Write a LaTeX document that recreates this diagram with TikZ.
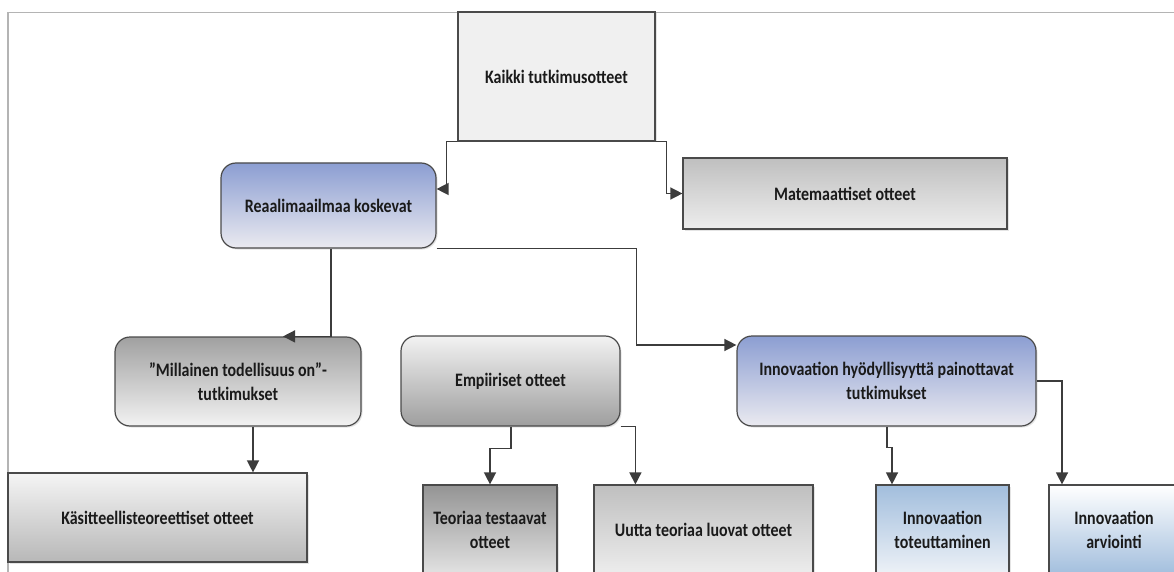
\documentclass[tikz,border=0pt]{standalone}
\usepackage{fontspec}
\setmainfont{Carlito}[FakeStretch=0.84]
\usetikzlibrary{arrows.meta,shadows}

\definecolor{edgecol}{HTML}{4A4A4A}
\definecolor{linecol}{HTML}{3C3C3C}
\definecolor{framecol}{HTML}{B4B4B4}
\definecolor{txtcol}{HTML}{1A1A1A}
\definecolor{paleFill}{HTML}{F0F0F0}
\definecolor{blueTop}{HTML}{8C9ED2}
\definecolor{blueBot}{HTML}{EAEAF0}
\definecolor{skyTop}{HTML}{A2BEDD}
\definecolor{skyBot}{HTML}{EEF2F7}

\tikzset{
  basebox/.style={draw=edgecol, line width=1.2pt, text=txtcol, align=center,
    inner sep=0pt, font=\fontsize{19}{23.5}\selectfont\bfseries,
    drop shadow={shadow xshift=1.5pt, shadow yshift=-1.5pt, opacity=0.15, fill=black!70}},
  roundbox/.style={basebox, rounded corners=15pt},
  conn/.style={draw=linecol, line width=1.4pt, -{Triangle[length=12pt,width=12pt]}}
}

\begin{document}
\begin{tikzpicture}[x=1pt, y=-1pt]
  % page area and white background
  \fill[white] (0,0) rectangle (1174,572);
  \useasboundingbox (0,0) rectangle (1174,572);
  \clip (0,0) rectangle (1174,572);

  % thin page frame (top and left edges)
  \draw[framecol, line width=1.2pt] (8,572) -- (8,12.5) -- (1174,12.5);

  % level 0
  \node[basebox, fill=paleFill, drop shadow={opacity=0}, minimum width=197pt, minimum height=129pt]
    (kaikki) at (556.5,76.5) {Kaikki tutkimusotteet};

  % level 1
  \node[roundbox, top color=blueTop, bottom color=blueBot, minimum width=215pt, minimum height=85pt]
    (reaali) at (328.5,205.5) {Reaalimaailmaa koskevat};
  \node[basebox, top color=black!25, bottom color=black!7, minimum width=324pt, minimum height=71pt]
    (matem) at (845,193.5) {Matemaattiset otteet};

  % level 2
  \node[roundbox, top color=black!37, bottom color=black!5, minimum width=246pt, minimum height=89pt]
    (mill) at (238,381.5) {”Millainen todellisuus on”-\\tutkimukset};
  \node[roundbox, top color=black!5, bottom color=black!38, minimum width=219pt, minimum height=90pt]
    (empi) at (510.5,381) {Empiiriset otteet};
  \node[roundbox, top color=blueTop, bottom color=blueBot, minimum width=299pt, minimum height=90pt]
    (innov) at (886.5,381) {Innovaation hyödyllisyyttä painottavat\\tutkimukset};

  % level 3
  \node[basebox, top color=black!4, bottom color=black!28, minimum width=299pt, minimum height=89pt]
    (kasit) at (157.5,517.5) {Käsitteellisteoreettiset otteet};
  \node[basebox, top color=black!42, bottom color=black!11, minimum width=134pt, minimum height=90pt]
    (teoria) at (490,530) {Teoriaa testaavat\\otteet};
  \node[basebox, top color=black!25, bottom color=black!7, minimum width=219pt, minimum height=90pt]
    (uutta) at (703.5,530) {Uutta teoriaa luovat otteet};
  \node[basebox, top color=skyTop, bottom color=skyBot, minimum width=133pt, minimum height=90pt]
    (toteut) at (942.5,530) {Innovaation\\toteuttaminen};
  \node[basebox, top color=white, bottom color=skyTop, minimum width=130pt, minimum height=90pt]
    (arvio) at (1114,530) {Innovaation\\arviointi};

  % connectors
  \draw[conn] (kaikki.south west) -- ++(-11,0) |- ([yshift=16.5pt]reaali.east);
  \draw[conn] (kaikki.south east) -- ++(11,0) |- (matem.west);
  \draw[conn] ([xshift=2.5pt]reaali.south) |- ([xshift=45pt]mill.north);
  \draw[conn] (reaali.south east) -- ++(200,0) |- ([yshift=36pt]innov.west);
  \draw[conn] ([xshift=15pt]mill.south) -- ([xshift=15pt]mill.south |- kasit.north);
  \draw[conn] ([xshift=0.5pt]empi.south) -- ++(0,22) -| (teoria.north);
  \draw[conn] (empi.south east) -| ([xshift=42pt]uutta.north west);
  \draw[conn] ([xshift=0.5pt]innov.south) -- ++(0,21) -| ([xshift=-50.5pt]toteut.north);
  \draw[conn] (innov.east) -| ([xshift=-52pt]arvio.north);
\end{tikzpicture}
\end{document}
